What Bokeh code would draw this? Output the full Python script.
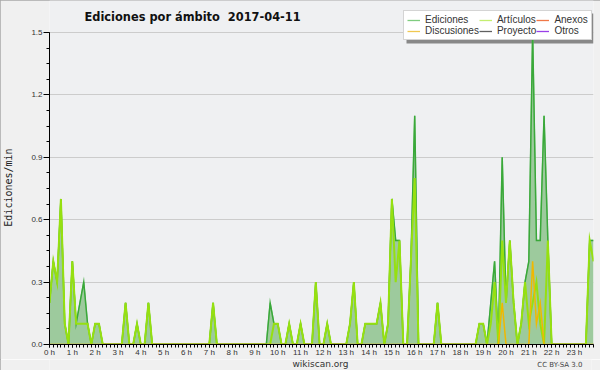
import math
from bokeh.plotting import figure
from bokeh.layouts import column
from bokeh.models import (Range1d, FixedTicker, Legend, LegendItem, Label,
                          BoxAnnotation, ColumnDataSource)
from bokeh.embed import file_html
from bokeh.resources import INLINE

# ---------------- data (10-minute slots, edits per minute) ----------------
hour_ticks = list(range(24))
hour_labels = [f"{h} h" for h in hour_ticks]
y_ticks = [0.0, 0.3, 0.6, 0.9, 1.2, 1.5]
y_labels = ["0.0", "0.3", "0.6", "0.9", "1.2", "1.5"]

ediciones = [
    0.2, 0.4, 0.3, 0.7, 0.1, 0.0, 0.4, 0.1, 0.2, 0.3, 0.1, 0.0,
    0.1, 0.1, 0.0, 0.0, 0.0, 0.0, 0.0, 0.0, 0.2, 0.0, 0.0, 0.1,
    0.0, 0.0, 0.2, 0.0, 0.0, 0.0, 0.0, 0.0, 0.0, 0.0, 0.0, 0.0,
    0.0, 0.0, 0.0, 0.0, 0.0, 0.0, 0.0, 0.2, 0.0, 0.0, 0.0, 0.0,
    0.0, 0.0, 0.0, 0.0, 0.0, 0.0, 0.0, 0.0, 0.0, 0.0, 0.2, 0.1,
    0.1, 0.0, 0.0, 0.1, 0.0, 0.0, 0.1, 0.0, 0.0, 0.0, 0.3, 0.0,
    0.0, 0.1, 0.0, 0.0, 0.0, 0.0, 0.0, 0.1, 0.3, 0.0, 0.0, 0.1,
    0.1, 0.1, 0.1, 0.2, 0.0, 0.1, 0.7, 0.5, 0.5, 0.0, 0.0, 0.4,
    1.1, 0.0, 0.0, 0.0, 0.0, 0.0, 0.2, 0.0, 0.0, 0.0, 0.0, 0.0,
    0.0, 0.0, 0.0, 0.0, 0.0, 0.1, 0.1, 0.0, 0.2, 0.4, 0.0, 0.9,
    0.2, 0.5, 0.2, 0.0, 0.1, 0.3, 0.4, 1.5, 0.5, 0.5, 1.1, 0.5,
    0.0, 0.0, 0.0, 0.0, 0.0, 0.0, 0.0, 0.0, 0.0, 0.0, 0.5, 0.5,
]
articulos = [
    0.2, 0.4, 0.3, 0.7, 0.1, 0.0, 0.4, 0.1, 0.1, 0.1, 0.1, 0.0,
    0.1, 0.1, 0.0, 0.0, 0.0, 0.0, 0.0, 0.0, 0.2, 0.0, 0.0, 0.1,
    0.0, 0.0, 0.2, 0.0, 0.0, 0.0, 0.0, 0.0, 0.0, 0.0, 0.0, 0.0,
    0.0, 0.0, 0.0, 0.0, 0.0, 0.0, 0.0, 0.2, 0.0, 0.0, 0.0, 0.0,
    0.0, 0.0, 0.0, 0.0, 0.0, 0.0, 0.0, 0.0, 0.0, 0.0, 0.0, 0.1,
    0.1, 0.0, 0.0, 0.1, 0.0, 0.0, 0.1, 0.0, 0.0, 0.0, 0.3, 0.0,
    0.0, 0.1, 0.0, 0.0, 0.0, 0.0, 0.0, 0.1, 0.3, 0.0, 0.0, 0.1,
    0.1, 0.1, 0.1, 0.2, 0.0, 0.1, 0.7, 0.3, 0.5, 0.0, 0.0, 0.4,
    0.8, 0.0, 0.0, 0.0, 0.0, 0.0, 0.2, 0.0, 0.0, 0.0, 0.0, 0.0,
    0.0, 0.0, 0.0, 0.0, 0.0, 0.1, 0.1, 0.0, 0.1, 0.3, 0.0, 0.5,
    0.2, 0.5, 0.2, 0.0, 0.1, 0.3, 0.1, 0.2, 0.3, 0.1, 0.0, 0.5,
    0.0, 0.0, 0.0, 0.0, 0.0, 0.0, 0.0, 0.0, 0.0, 0.0, 0.5, 0.4,
]
discusiones = [
    0.0, 0.0, 0.0, 0.0, 0.0, 0.0, 0.0, 0.0, 0.0, 0.0, 0.0, 0.0,
    0.0, 0.0, 0.0, 0.0, 0.0, 0.0, 0.0, 0.0, 0.0, 0.0, 0.0, 0.0,
    0.0, 0.0, 0.0, 0.0, 0.0, 0.0, 0.0, 0.0, 0.0, 0.0, 0.0, 0.0,
    0.0, 0.0, 0.0, 0.0, 0.0, 0.0, 0.0, 0.0, 0.0, 0.0, 0.0, 0.0,
    0.0, 0.0, 0.0, 0.0, 0.0, 0.0, 0.0, 0.0, 0.0, 0.0, 0.0, 0.0,
    0.0, 0.0, 0.0, 0.0, 0.0, 0.0, 0.0, 0.0, 0.0, 0.0, 0.0, 0.0,
    0.0, 0.0, 0.0, 0.0, 0.0, 0.0, 0.0, 0.0, 0.0, 0.0, 0.0, 0.0,
    0.0, 0.0, 0.0, 0.0, 0.0, 0.0, 0.0, 0.0, 0.0, 0.0, 0.0, 0.0,
    0.0, 0.0, 0.0, 0.0, 0.0, 0.0, 0.0, 0.0, 0.0, 0.0, 0.0, 0.0,
    0.0, 0.0, 0.0, 0.0, 0.0, 0.0, 0.0, 0.0, 0.0, 0.0, 0.0, 0.2,
    0.0, 0.0, 0.0, 0.0, 0.0, 0.0, 0.0, 0.4, 0.1, 0.2, 0.0, 0.0,
    0.0, 0.0, 0.0, 0.0, 0.0, 0.0, 0.0, 0.0, 0.0, 0.0, 0.0, 0.0,
]
# no visible activity for these namespaces on this day
anexos = [
    0.0, 0.0, 0.0, 0.0, 0.0, 0.0, 0.0, 0.0, 0.0, 0.0, 0.0, 0.0,
    0.0, 0.0, 0.0, 0.0, 0.0, 0.0, 0.0, 0.0, 0.0, 0.0, 0.0, 0.0,
    0.0, 0.0, 0.0, 0.0, 0.0, 0.0, 0.0, 0.0, 0.0, 0.0, 0.0, 0.0,
    0.0, 0.0, 0.0, 0.0, 0.0, 0.0, 0.0, 0.0, 0.0, 0.0, 0.0, 0.0,
    0.0, 0.0, 0.0, 0.0, 0.0, 0.0, 0.0, 0.0, 0.0, 0.0, 0.0, 0.0,
    0.0, 0.0, 0.0, 0.0, 0.0, 0.0, 0.0, 0.0, 0.0, 0.0, 0.0, 0.0,
    0.0, 0.0, 0.0, 0.0, 0.0, 0.0, 0.0, 0.0, 0.0, 0.0, 0.0, 0.0,
    0.0, 0.0, 0.0, 0.0, 0.0, 0.0, 0.0, 0.0, 0.0, 0.0, 0.0, 0.0,
    0.0, 0.0, 0.0, 0.0, 0.0, 0.0, 0.0, 0.0, 0.0, 0.0, 0.0, 0.0,
    0.0, 0.0, 0.0, 0.0, 0.0, 0.0, 0.0, 0.0, 0.0, 0.0, 0.0, 0.0,
    0.0, 0.0, 0.0, 0.0, 0.0, 0.0, 0.0, 0.0, 0.0, 0.0, 0.0, 0.0,
    0.0, 0.0, 0.0, 0.0, 0.0, 0.0, 0.0, 0.0, 0.0, 0.0, 0.0, 0.0,
]
proyecto = list(anexos)
otros = list(anexos)
slot_hours = [i / 6 for i in range(len(ediciones))]   # 00:00, 00:10, ... 23:50

title_text = "Ediciones por ámbito\u00a0 2017-04-11"
y_title = "Ediciones/min"
site_text = "wikiscan.org"
license_text = "CC BY-SA 3.0"
legend_names = ["Ediciones", "Artículos", "Anexos", "Discusiones", "Proyecto", "Otros"]
legend_series = [ediciones, articulos, anexos, discusiones, proyecto, otros]
legend_colors = ["#7fcc7f", "#c4ee70", "#f07848", "#f0c850", "#606060", "#9a40e8"]

# ---------------- main figure ----------------
FONT = "Liberation Sans"
OUTER = "#f0f0f0"
src = ColumnDataSource(dict(x=slot_hours, ed=ediciones, art=articulos, dis=discusiones,
                            zero=[0.0] * len(ediciones)))

p = figure(frame_width=544, frame_height=344,
           min_border_left=47, min_border_right=9, min_border_top=0, min_border_bottom=13,
           x_range=Range1d(0, slot_hours[-1]), y_range=Range1d(0, 1.654),
           output_backend="svg", toolbar_location=None, title=None)
p.background_fill_color = "#eff0f2"
p.border_fill_color = OUTER
p.outline_line_color = None

# legend-coloured series lines (drawn first, hidden underneath the chart's own strokes)
sw = [p.line(x=slot_hours, y=s, line_color=c, line_width=1.3)
      for s, c in zip(legend_series, legend_colors)]

p.varea(x="x", y1="zero", y2="ed", source=src, fill_color="#9dca9d")
p.line(x="x", y="ed", source=src, line_color="#3aa83a", line_width=1.5, line_join="miter")
p.line(x="x", y="art", source=src, line_color="#96e010", line_width=2, line_join="miter")
p.line(x="x", y="dis", source=src, line_color="#f0b800", line_width=1.5, line_join="miter")

# grid / axes
p.xgrid.visible = False
p.ygrid.grid_line_color = "#cccccc"
p.ygrid.ticker = FixedTicker(ticks=y_ticks)

xa = p.xaxis[0]
xa.ticker = FixedTicker(ticks=hour_ticks, minor_ticks=slot_hours)
xa.major_label_overrides = {h: lab for h, lab in zip(hour_ticks, hour_labels)}
xa.axis_line_color = "black"
xa.major_tick_line_color = "black"
xa.minor_tick_line_color = "black"
xa.major_tick_in = 0
xa.minor_tick_in = 0
xa.major_tick_out = 3
xa.minor_tick_out = 3
xa.major_label_standoff = 0
xa.major_label_text_font = FONT
xa.major_label_text_font_size = "8px"
xa.major_label_text_color = "#333333"

ya = p.yaxis[0]
ya.bounds = (y_ticks[0], y_ticks[-1])
ya.ticker = FixedTicker(ticks=y_ticks, minor_ticks=[k * 0.075 for k in range(21)])
ya.major_label_overrides = {t: lab for t, lab in zip(y_ticks, y_labels)}
ya.axis_line_color = "black"
ya.major_tick_in = 0
ya.minor_tick_in = 0
ya.major_tick_out = 6
ya.minor_tick_out = 3
ya.major_label_standoff = 1
ya.major_label_text_font = FONT
ya.major_label_text_font_size = "8px"
ya.major_label_text_color = "#333333"
ya.axis_label = y_title + "\u00a0" * 5
ya.axis_label_standoff = 14
ya.axis_label_text_font = "DejaVu Sans Mono"
ya.axis_label_text_font_size = "10px"
ya.axis_label_text_font_style = "normal"
ya.axis_label_text_color = "#222222"

# title (inside the frame area, top of chart)
p.add_layout(Label(x=35, y=327.5, x_units="screen", y_units="screen", text=title_text,
                   text_font="DejaVu Sans", text_font_style="bold", text_font_size="11.4px",
                   text_color="#111111", text_baseline="alphabetic"))

# legend with shadow (beneath the data, above the grid)
p.add_layout(BoxAnnotation(left=357, right=544, bottom=301, top=331,
                           left_units="screen", right_units="screen",
                           bottom_units="screen", top_units="screen",
                           fill_color="#888888", fill_alpha=1.0, line_color=None,
                           level="underlay"))
legend = Legend(items=[LegendItem(label=n, renderers=[r]) for n, r in zip(legend_names, sw)],
                location=(354, 304), orientation="horizontal", ncols=3,
                background_fill_color="white", background_fill_alpha=1.0,
                border_line_color="#aaaaaa", label_text_font=FONT,
                label_text_font_size="10px", label_text_color="#333333",
                glyph_width=13, glyph_height=8, label_height=8, label_standoff=5,
                spacing=0, padding=3, margin=0, level="underlay")
p.add_layout(legend)

# ---------------- footer strip ----------------
foot = figure(width=600, height=13, x_range=Range1d(0, 600), y_range=Range1d(0, 13),
              x_axis_type=None, y_axis_type=None, min_border=0,
              output_backend="svg", toolbar_location=None, title=None)
foot.grid.visible = False
foot.background_fill_color = OUTER
foot.border_fill_color = OUTER
foot.outline_line_color = None
foot.add_layout(Label(x=300, y=8.5, text=site_text, text_align="center", text_baseline="middle",
                      text_font="DejaVu Sans", text_font_size="9px", text_color="#333333"))
foot.add_layout(Label(x=590, y=8, text=license_text, text_align="right", text_baseline="middle",
                      text_font="DejaVu Sans", text_font_size="7px", text_color="#444444"))

layout = column(p, foot, spacing=0)
layout.styles = {"outline": "1px solid #a8a8a8", "outline-offset": "-1px"}
open("out.html", "w").write(file_html(layout, INLINE))
